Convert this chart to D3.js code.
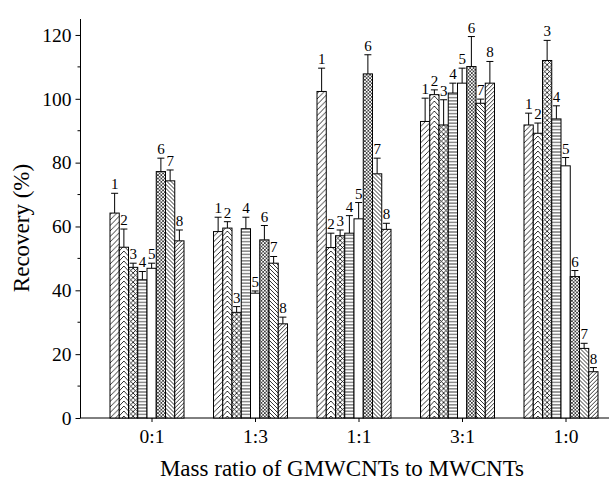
<!DOCTYPE html>
<html>
<head>
<meta charset="utf-8">
<script src="https://cdn.jsdelivr.net/npm/d3@7"></script>
<style>
  body { margin: 0; background: #fff; }
  svg text { font-family: "Liberation Serif", "Times New Roman", serif; }
  .tick text { font-size: 19.5px; fill: #000; }
  .axis-label { font-size: 23px; fill: #000; text-anchor: middle; }
  .num { font-size: 15px; fill: #000; text-anchor: middle; }
</style>
</head>
<body>
<svg width="609" height="484"></svg>
<script>
const categories = ['0:1', '1:3', '1:1', '3:1', '1:0'];
const series = ['1', '2', '3', '4', '5', '6', '7', '8'];
const yTicks = [0, 20, 40, 60, 80, 100, 120];

// recovery (%) per mass ratio, series 1..8
const r01 = [64.2, 53.5, 47.2, 43.3, 46.9, 77.2, 74.3, 55.5];
const r13 = [58.4, 59.5, 33.1, 59.3, 39.1, 55.8, 48.5, 29.5];
const r11 = [102.3, 53.4, 57.1, 57.9, 62.4, 107.8, 76.5, 59.1];
const r31 = [92.9, 101.3, 91.8, 101.8, 104.9, 110.1, 98.6, 104.9];
const r10 = [91.8, 89.2, 112.0, 93.7, 79.0, 44.3, 21.8, 14.5];
// error bars
const e01 = [6.2, 5.7, 1.3, 2.6, 1.6, 4.2, 3.4, 3.4];
const e13 = [4.5, 2.0, 1.8, 3.6, 0.7, 4.5, 2.1, 2.1];
const e11 = [7.3, 4.5, 1.8, 5.5, 5.1, 6.0, 4.9, 1.9];
const e31 = [7.3, 1.5, 7.9, 3.1, 4.7, 9.4, 1.3, 6.8];
const e10 = [3.7, 3.2, 6.3, 4.1, 2.6, 1.9, 1.6, 1.3];

const values = [r01, r13, r11, r31, r10];
const errors = [e01, e13, e11, e31, e10];

function Start() {
    const svg = d3.select('svg');
    const width = +svg.attr('width');

    const axisX = 80.5, axisY = 418;

    const y = d3.scaleLinear().domain([0, 125]).range([axisY, 19]);
    const x = d3.scalePoint().domain(categories).range([151.5, 565.5]);
    const xs = d3.scaleBand().domain(series).range([-41.5, 32.5]);
    const bw = xs.bandwidth();

    // patterns
    const defs = svg.append('defs');
    const pat = (id, w, h, d, sw) => {
        const p = defs.append('pattern').attr('id', id)
            .attr('patternUnits', 'userSpaceOnUse')
            .attr('width', w).attr('height', h);
        p.append('rect').attr('width', w).attr('height', h).attr('fill', '#fff');
        p.append('path').attr('d', d).attr('stroke', '#000')
            .attr('stroke-width', sw).attr('fill', 'none');
    };
    pat('p1', 5.5, 5.5, 'M-1,1 L1,-1 M0,5.5 L5.5,0 M4.5,6.5 L6.5,4.5', 0.8);
    pat('p2', bw, 5, `M0,6 L${bw/2},1 L${bw},6 M0,1 L${bw/2},-4 L${bw},1`, 0.8);
    pat('p3', bw/2, bw/2, `M0,0 L${bw/2},${bw/2} M${bw/2},0 L0,${bw/2}`, 0.8);
    pat('p4', 4, 3.2, 'M0,1.6 L4,1.6', 0.8);
    pat('p6', 3.4, 3.4, 'M0,0 L3.4,3.4 M3.4,0 L0,3.4', 0.65);
    pat('p7', 4, 4, 'M0,0 L4,4 M-1,3 L1,5 M3,-1 L5,1', 0.8);
    pat('p8', 4, 4, 'M0,4 L4,0 M-1,1 L1,-1 M3,5 L5,3', 0.8);
    const fills = ['url(#p1)', 'url(#p2)', 'url(#p3)', 'url(#p4)', '#fff', 'url(#p6)', 'url(#p7)', 'url(#p8)'];

    // y axis
    const yAxisG = svg.append('g')
        .attr('transform', `translate(${axisX},0)`)
        .call(d3.axisLeft(y).tickValues(yTicks).tickSize(5).tickSizeOuter(0).tickPadding(4));
    yAxisG.attr('font-family', null).attr('font-size', null);
    yAxisG.select('.domain').attr('d', `M0,${axisY} V${y(125)}`);
    yAxisG.selectAll('.minor').data(d3.range(10, 125, 20)).enter()
        .append('line').attr('class', 'minor')
        .attr('x1', 0).attr('x2', -3)
        .attr('y1', d => y(d)).attr('y2', d => y(d))
        .attr('stroke', '#000');

    // x axis
    const xAxisG = svg.append('g')
        .attr('transform', `translate(0,${axisY})`)
        .call(d3.axisBottom(x).tickSize(4).tickPadding(7));
    xAxisG.attr('font-family', null).attr('font-size', null);
    xAxisG.select('.domain').attr('d', `M${axisX},0 H${width}`);

    // bars
    const groups = svg.append('g').selectAll('g.grp')
        .data(categories).enter().append('g')
            .attr('class', 'grp')
            .attr('transform', d => `translate(${x(d)},0)`);

    const bars = groups.selectAll('g.bar')
        .data((c, gi) => series.map((s, si) => ({ s, si, v: values[gi][si], e: errors[gi][si] })))
        .enter().append('g')
            .attr('class', 'bar')
            .attr('transform', d => `translate(${xs(d.s)},0)`);

    bars.append('path')
        .attr('d', d => `M${bw/2},${y(d.v)} V${y(d.v + d.e)} M${bw/2 - 3.5},${y(d.v + d.e)} H${bw/2 + 3.5}`)
        .attr('stroke', '#000').attr('stroke-width', 1).attr('fill', 'none');

    bars.append('rect')
        .attr('x', 0)
        .attr('y', d => y(d.v))
        .attr('width', bw)
        .attr('height', d => y(0) - y(d.v))
        .attr('fill', d => fills[d.si])
        .attr('stroke', '#000').attr('stroke-width', 1);

    bars.append('text')
        .attr('class', 'num')
        .attr('x', bw/2)
        .attr('y', d => y(d.v + d.e) - 4)
        .text(d => d.s);

    // axis titles
    svg.append('text')
        .attr('class', 'axis-label')
        .attr('x', 342).attr('y', 476)
        .text('Mass ratio of GMWCNTs to MWCNTs');

    svg.append('text')
        .attr('class', 'axis-label')
        .attr('transform', 'translate(29,228) rotate(-90)')
        .text('Recovery (%)');
}
Start();
</script>
</body>
</html>
